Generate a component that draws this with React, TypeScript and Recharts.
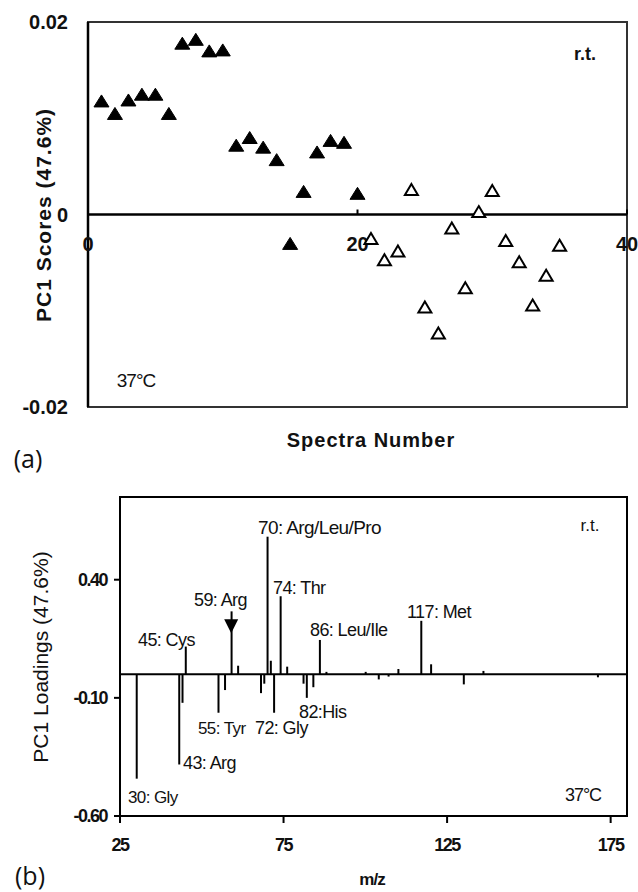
import {
  ScatterChart,
  Scatter,
  ComposedChart,
  Bar,
  XAxis,
  YAxis,
  ReferenceLine,
  ReferenceArea,
  ReferenceDot,
} from 'recharts';

const FONT = '"Liberation Sans", Arial, sans-serif';

// (a) PC1 scores
const spectraRt = [1, 2, 3, 4, 5, 6, 7, 8, 9, 10, 11, 12, 13, 14, 15, 16, 17, 18, 19, 20];
const scoresRt = [
  0.0118, 0.0105, 0.0119, 0.0125, 0.0125, 0.0105, 0.0178, 0.0182, 0.017, 0.0171,
  0.0072, 0.008, 0.007, 0.0057, -0.003, 0.0024, 0.0065, 0.0077, 0.0075, 0.0022,
];
const spectra37 = [21, 22, 23, 24, 25, 26, 27, 28, 29, 30, 31, 32, 33, 34, 35];
const scores37 = [
  -0.0025, -0.0047, -0.0038, 0.0026, -0.0096, -0.0123, -0.0014, -0.0076, 0.0003,
  0.0025, -0.0027, -0.0049, -0.0094, -0.0063, -0.0032,
];
const scoreTicks = [-0.02, 0, 0.02];
const spectraTicks = [0, 20, 40];

// (b) PC1 loadings
const mzValues = [
  30, 43, 44, 45, 55, 57, 59, 61, 68, 69, 70, 71, 72, 74, 76, 81, 82, 84, 86, 88,
  100, 104, 107, 110, 117, 120, 130, 136, 171,
];
const loadings = [
  -0.442, -0.382, -0.121, 0.117, -0.163, -0.067, 0.266, 0.036, -0.08, -0.04, 0.582,
  0.057, -0.163, 0.33, 0.032, -0.04, -0.1, -0.055, 0.145, 0.01, 0.01, -0.022, -0.01,
  0.022, 0.226, 0.042, -0.043, 0.014, -0.013,
];
const loadingTicks = [-0.6, -0.1, 0.4];
const mzTicks = [25, 75, 125, 175];

const rtData = spectraRt.map((x, i) => ({ x, y: scoresRt[i] }));
const warmData = spectra37.map((x, i) => ({ x, y: scores37[i] }));
const loadingData = mzValues.map((mz, i) => ({ mz, loading: loadings[i] }));

const triangle = (filled: boolean) => (props: any) => {
  const { cx, cy } = props;
  const w = filled ? 15 : 13;
  const h = filled ? 12 : 11;
  return (
    <polygon
      points={`${cx},${cy - h / 2} ${cx + w / 2},${cy + h / 2} ${cx - w / 2},${cy + h / 2}`}
      fill={filled ? '#000' : '#fff'}
      stroke="#000"
      strokeWidth={filled ? 1 : 2}
      strokeLinejoin="miter"
    />
  );
};

const zeroTick = (label: string) => (props: any) => {
  const { cx, cy } = props;
  return (
    <g>
      <line x1={cx} x2={cx} y1={cy - 5} y2={cy} stroke="#000" strokeWidth={2} />
      <text
        x={cx}
        y={cy + 29}
        textAnchor="middle"
        dominantBaseline="central"
        fontFamily={FONT}
        fontWeight="bold"
        fontSize={20}
        fill="#111"
      >
        {label}
      </text>
    </g>
  );
};

const arrowHead = (props: any) => {
  const { cx, cy } = props;
  return (
    <polygon
      points={`${cx - 7},${cy + 8} ${cx + 7},${cy + 8} ${cx},${cy + 22}`}
      fill="#000"
    />
  );
};

const annotations: { text: string; x: number; y: number; size: number }[] = [
  { text: '70: Arg/Leu/Pro', x: 258, y: 527, size: 19 },
  { text: '59: Arg', x: 194, y: 600, size: 18 },
  { text: '45: Cys', x: 138, y: 640, size: 18 },
  { text: '74: Thr', x: 273, y: 588, size: 18 },
  { text: '86: Leu/Ile', x: 310, y: 630, size: 18 },
  { text: '117: Met', x: 407, y: 612, size: 18 },
  { text: '55: Tyr', x: 198, y: 728, size: 17 },
  { text: '72: Gly', x: 255, y: 728, size: 18 },
  { text: '82:His', x: 299, y: 712, size: 18 },
  { text: '43: Arg', x: 183, y: 763, size: 18 },
  { text: '30: Gly', x: 128, y: 797, size: 17 },
];

export default function App() {
  return (
    <div
      style={{
        position: 'absolute',
        left: 0,
        top: 0,
        width: 638,
        height: 892,
        background: '#fff',
        fontFamily: FONT,
      }}
    >
      <div style={{ position: 'absolute', left: 0, top: 0 }}>
        <ScatterChart width={638} height={430} margin={{ top: 22, right: 11, left: 0, bottom: 23 }}>
          <XAxis dataKey="x" type="number" domain={[0, 40]} hide />
          <YAxis
            dataKey="y"
            type="number"
            domain={[-0.02, 0.02]}
            ticks={scoreTicks}
            width={88}
            tickLine={false}
            tickMargin={14}
            axisLine={{ stroke: '#000', strokeWidth: 2.5 }}
            tickFormatter={(v: number) => (v === 0 ? '0' : v.toFixed(2))}
            tick={{ fontSize: 20, fontWeight: 'bold', fill: '#111', fontFamily: FONT }}
          />
          <ReferenceArea
            x1={0}
            x2={40}
            y1={-0.02}
            y2={0.02}
            fill="none"
            fillOpacity={0}
            stroke="#333"
            strokeWidth={2}
          />
          <ReferenceLine y={0} stroke="#000" strokeWidth={2.5} />
          {spectraTicks.map((t) => (
            <ReferenceDot key={t} x={t} y={0} r={0} shape={zeroTick(String(t))} />
          ))}
          <Scatter data={rtData} shape={triangle(true)} isAnimationActive={false} />
          <Scatter data={warmData} shape={triangle(false)} isAnimationActive={false} />
        </ScatterChart>
      </div>

      <div style={{ position: 'absolute', left: 0, top: 460 }}>
        <ComposedChart
          width={638}
          height={432}
          data={loadingData}
          margin={{ top: 37, right: 11, left: 0, bottom: 16 }}
        >
          <XAxis
            dataKey="mz"
            type="number"
            domain={[25, 180]}
            ticks={mzTicks}
            height={60}
            tickSize={7}
            tickMargin={15}
            axisLine={{ stroke: '#000', strokeWidth: 2 }}
            tickLine={{ stroke: '#000', strokeWidth: 2 }}
            tick={{ fontSize: 18, fontWeight: 'bold', fill: '#111', fontFamily: FONT, letterSpacing: -1.5 }}
          />
          <YAxis
            type="number"
            domain={[-0.6, 0.75]}
            allowDataOverflow
            ticks={loadingTicks}
            width={120}
            tickSize={6}
            tickMargin={7}
            axisLine={{ stroke: '#000', strokeWidth: 2 }}
            tickLine={{ stroke: '#000', strokeWidth: 2 }}
            tickFormatter={(v: number) => v.toFixed(2)}
            tick={{ fontSize: 18, fontWeight: 'bold', fill: '#111', fontFamily: FONT, letterSpacing: -1.5 }}
          />
          <ReferenceArea
            x1={25}
            x2={180}
            y1={-0.6}
            y2={0.75}
            fill="none"
            fillOpacity={0}
            stroke="#000"
            strokeWidth={2}
          />
          <ReferenceLine y={0} stroke="#000" strokeWidth={2} />
          <Bar dataKey="loading" fill="#000" barSize={2} isAnimationActive={false} />
          <ReferenceDot x={59} y={0.266} r={0} shape={arrowHead} />
        </ComposedChart>
      </div>

      <svg
        width={638}
        height={892}
        style={{ position: 'absolute', left: 0, top: 0, pointerEvents: 'none' }}
        fontFamily={FONT}
        fill="#111"
      >
        <text
          transform="translate(43,215) rotate(-90)"
          textAnchor="middle"
          dominantBaseline="central"
          fontSize={21}
          fontWeight="bold"
          letterSpacing={1}
        >
          PC1 Scores (47.6%)
        </text>
        <text x={371} y={440} textAnchor="middle" dominantBaseline="central" fontSize={20} fontWeight="bold" letterSpacing={1}>
          Spectra Number
        </text>
        <text x={585} y={54} textAnchor="middle" dominantBaseline="central" fontSize={18} fontWeight="bold">
          r.t.
        </text>
        <text x={136} y={380} textAnchor="middle" dominantBaseline="central" fontSize={19} letterSpacing={-1}>
          37°C
        </text>
        <text x={28} y={458} textAnchor="middle" dominantBaseline="central" fontSize={25} fontFamily='"Open Sans", sans-serif'>
          (a)
        </text>

        <text
          transform="translate(40,657) rotate(-90)"
          textAnchor="middle"
          dominantBaseline="central"
          fontSize={21}
        >
          PC1 Loadings (47.6%)
        </text>
        <text x={372} y={879} textAnchor="middle" dominantBaseline="central" fontSize={17} fontWeight="bold" letterSpacing={-1}>
          m/z
        </text>
        <text x={590} y={525} textAnchor="middle" dominantBaseline="central" fontSize={17}>
          r.t.
        </text>
        <text x={583} y={795} textAnchor="middle" dominantBaseline="central" fontSize={18} letterSpacing={-1}>
          37°C
        </text>
        <text x={30} y={875} textAnchor="middle" dominantBaseline="central" fontSize={25} fontFamily='"Open Sans", sans-serif'>
          (b)
        </text>
        {annotations.map((a) => (
          <text
            key={a.text}
            x={a.x}
            y={a.y}
            dominantBaseline="central"
            fontSize={a.size}
            letterSpacing={-0.6}
          >
            {a.text}
          </text>
        ))}
      </svg>
    </div>
  );
}
